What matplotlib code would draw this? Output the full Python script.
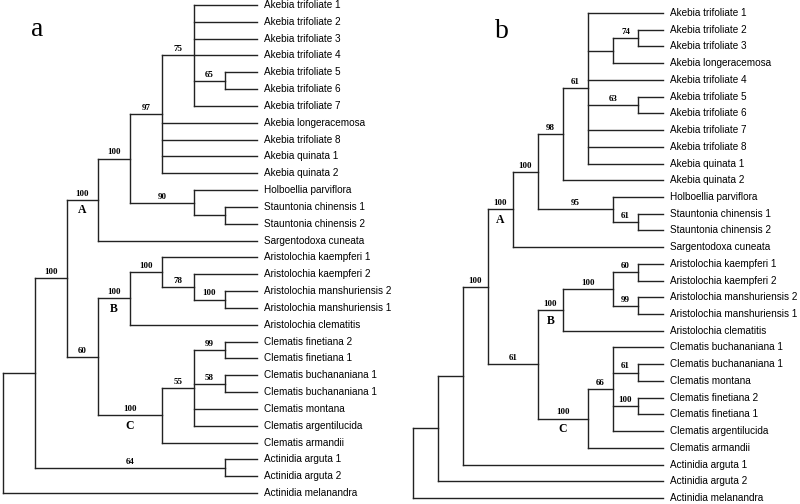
import matplotlib.pyplot as plt


def node(level, children, support="", clade=""):
    return {"level": level, "children": children, "support": support, "clade": clade}


# ---- tree a (levels: tips sit at level 8) ----
akebia_a = node(5, [
    node(6, ["Akebia trifoliate 1", "Akebia trifoliate 2", "Akebia trifoliate 3",
             "Akebia trifoliate 4",
             node(7, ["Akebia trifoliate 5", "Akebia trifoliate 6"], "65"),
             "Akebia trifoliate 7"], "75"),
    "Akebia longeracemosa", "Akebia trifoliate 8", "Akebia quinata 1", "Akebia quinata 2",
], "97")
holboellia_a = node(6, ["Holboellia parviflora",
                        node(7, ["Stauntonia chinensis 1", "Stauntonia chinensis 2"])], "90")
clade_a_a = node(3, [node(4, [akebia_a, holboellia_a], "100"), "Sargentodoxa cuneata"],
                 "100", "A")
clade_b_a = node(4, [
    node(5, ["Aristolochia kaempferi 1",
             node(6, ["Aristolochia kaempferi 2",
                      node(7, ["Aristolochia manshuriensis 2", "Aristolochia manshuriensis 1"], "100")],
                  "78")], "100"),
    "Aristolochia clematitis",
], "100", "B")
clade_c_a = node(5, [
    node(6, [node(7, ["Clematis finetiana 2", "Clematis finetiana 1"], "99"),
             node(7, ["Clematis buchananiana 1", "Clematis buchananiana 1"], "58"),
             "Clematis montana", "Clematis argentilucida"], "55"),
    "Clematis armandii",
], "100", "C")
tree_a = node(0, [
    node(1, [
        node(2, [clade_a_a, node(3, [clade_b_a, clade_c_a], "60")], "100"),
        node(7, ["Actinidia arguta 1", "Actinidia arguta 2"], "64"),
    ]),
    "Actinidia melanandra",
])
tip_a = 8

# ---- tree b (levels: tips sit at level 10) ----
akebia_b = node(7, [
    "Akebia trifoliate 1",
    node(8, [node(9, ["Akebia trifoliate 2", "Akebia trifoliate 3"], "74"), "Akebia longeracemosa"]),
    "Akebia trifoliate 4",
    node(9, ["Akebia trifoliate 5", "Akebia trifoliate 6"], "63"),
    "Akebia trifoliate 7", "Akebia trifoliate 8", "Akebia quinata 1",
], "61")
holboellia_b = node(8, ["Holboellia parviflora",
                        node(9, ["Stauntonia chinensis 1", "Stauntonia chinensis 2"], "61")], "95")
clade_a_b = node(4, [node(5, [node(6, [akebia_b, "Akebia quinata 2"], "98"), holboellia_b], "100"),
                     "Sargentodoxa cuneata"], "100", "A")
clade_b_b = node(6, [
    node(8, [node(9, ["Aristolochia kaempferi 1", "Aristolochia kaempferi 2"], "60"),
             node(9, ["Aristolochia manshuriensis 2", "Aristolochia manshuriensis 1"], "99")], "100"),
    "Aristolochia clematitis",
], "100", "B")
clade_c_b = node(7, [
    node(8, ["Clematis buchananiana 1",
             node(9, ["Clematis buchananiana 1", "Clematis montana"], "61"),
             node(9, ["Clematis finetiana 2", "Clematis finetiana 1"], "100"),
             "Clematis argentilucida"], "66"),
    "Clematis armandii",
], "100", "C")
tree_b = node(0, [
    node(1, [
        node(2, [node(3, [clade_a_b, node(5, [clade_b_b, clade_c_b], "61")], "100"),
                 "Actinidia arguta 1"]),
        "Actinidia arguta 2",
    ]),
    "Actinidia melanandra",
])
tip_b = 10

LINE = dict(color="#222222", lw=1.0, solid_capstyle="projecting")
SUPPORT = dict(family="Liberation Serif", fontweight="bold", fontsize=6.5,
               ha="center", va="bottom", textcoords="offset points")
CLADE = dict(family="Liberation Serif", fontweight="bold", fontsize=8.5,
             ha="center", va="top", textcoords="offset points")


def draw_tree(ax, root, tip):
    row = [0]

    def place(n):
        if isinstance(n, str):
            y = row[0]
            row[0] += 1
            ax.annotate(n, (tip, y), xytext=(5, 0), textcoords="offset points",
                        va="center", ha="left", fontsize=7.2, family="Liberation Sans")
            return tip, y
        x = n["level"]
        pts = [place(c) for c in n["children"]]
        y = (pts[0][1] + pts[-1][1]) / 2
        ax.plot([x, x], [pts[0][1], pts[-1][1]], **LINE)
        for c, (cx, cy) in zip(n["children"], pts):
            ax.plot([x, cx], [cy, cy], **LINE)
            if not isinstance(c, str):
                mid = (x + cx) / 2
                if c["support"]:
                    ax.annotate(c["support"], (mid, cy), xytext=(0, 1.5), **SUPPORT)
                if c["clade"]:
                    ax.annotate(c["clade"], (mid, cy), xytext=(0, -3.5), **CLADE)
        return x, y

    place(root)


fig = plt.figure(figsize=(8, 5.04), dpi=100)

ax_a = fig.add_axes([0, 0, 0.5, 1])
draw_tree(ax_a, tree_a, tip_a)
ax_a.set_xlim(-0.0945, 12.5)
ax_a.set_ylim(29.65, -0.297)
ax_a.axis("off")
ax_a.text(37 / 400, 1 - 30 / 504, "a", transform=ax_a.transAxes, fontsize=20,
          family="Liberation Serif", ha="center", va="center")

ax_b = fig.add_axes([0.5, 0, 0.5, 1])
draw_tree(ax_b, tree_b, tip_b)
ax_b.set_xlim(-0.52, 15.48)
ax_b.set_ylim(29.36, -0.777)
ax_b.axis("off")
ax_b.text(102 / 400, 1 - 32 / 504, "b", transform=ax_b.transAxes, fontsize=20,
          family="Liberation Serif", ha="center", va="center")

fig.savefig("out.png", dpi=100)
